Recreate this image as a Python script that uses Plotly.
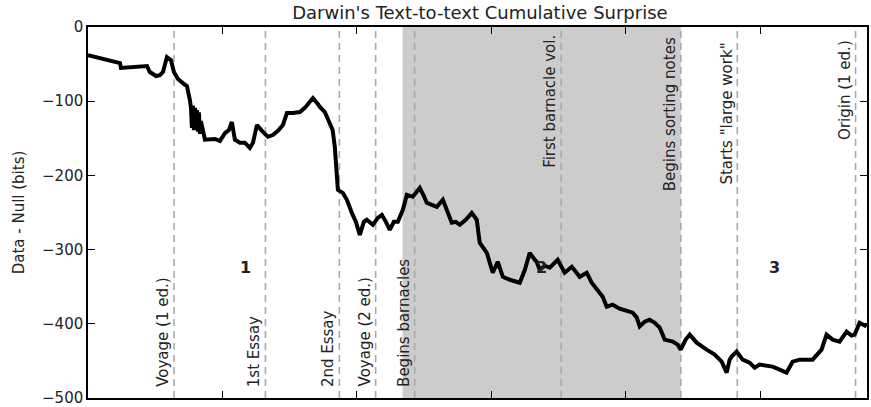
import plotly.graph_objects as go

# Cumulative surprise trace (x: text index, y: data - null in bits)
text_index = [0, 8, 23.8, 24.5, 43.9, 46, 50.6, 53.5, 55.8, 58.7, 61.7, 63.9, 66.9, 70.6, 73.6, 75.8,
              76.6, 77.3, 78.0, 78.8, 79.6, 80.3, 81.0, 81.8, 82.5, 83.3, 84.0,
              87, 94.4, 98.1, 101.9, 104.8, 107, 109.3, 113, 116.7, 120.4, 122.7, 125.7, 129.4,
              133.8, 137.5, 141.3, 145, 148, 152.4, 157.6, 161.3, 167.3, 171, 172.5, 176.2, 180,
              182, 183.6, 185, 185.9, 189.6, 192.6, 196.3, 199.3, 202.2, 205.2, 207.4, 211.9,
              215.6, 218.6, 221.6, 224.5, 227.5, 230.5, 234.2, 237.2, 241.6, 246.8, 249.8, 252,
              255.8, 259.5, 264, 267.7, 270.6, 273.6, 276.6, 281, 285.5, 289.2, 291.4, 296.7,
              301.1, 304.8, 308.6, 313.8, 321.2, 325, 328.6, 332.3, 333.8, 336, 339.8, 343.5,
              349.4, 354.6, 359.9, 365.8, 371, 374.7, 378.4, 382.9, 385.9, 390.3, 395.5, 401.5,
              405.2, 408.2, 410.4, 414.1, 417.8, 421.6, 425.3, 429, 435, 438.7, 440.9, 444.6,
              447.6, 452.8, 456.5, 460.2, 466.2, 471.4, 475.1, 477.3, 478.8, 482.5, 487, 492.2,
              495.9, 499.6, 509.3, 519.7, 524.2, 529.4, 539, 545.7, 549.4, 553.9, 559.1, 564.3,
              568, 570.3, 574, 579.2]
surprise = [-38, -42, -48.5, -55, -52.6, -60.6, -66, -64.7, -60.6, -40.4, -44.5, -60.6, -70, -75.5, -79.5, -98.4,
            -109, -136, -106, -139, -109, -139, -112, -141, -115, -144, -127,
            -152, -151, -153.6, -143, -139, -128, -152, -156, -156, -163, -156, -132, -140,
            -148, -145.6, -140, -132, -116, -116, -114.6, -109, -95.7, -103.8, -107.8, -114.6, -129,
            -139, -161.7, -193, -219.7, -223.7, -233, -250.7, -262.8, -280.3, -262.8, -260, -266.8,
            -257.4, -253.4, -262.8, -273.6, -262.8, -262.8, -246.6, -226.4, -229, -217, -227.8, -237,
            -240, -242.6, -233, -250.7, -264, -262.8, -266.8, -260, -250.7, -260, -291, -304.6,
            -331.5, -316.7, -337, -341, -345, -327.5, -304.6, -314, -316.7, -327.5, -322, -324.8,
            -314, -331.5, -323.5, -337, -331.5, -345, -354.4, -364, -377.4, -374.7, -380, -384,
            -385.4, -392, -404, -397.6, -395, -399, -405.7, -421.8, -424.5, -428.6, -435.3, -421.8,
            -415, -425.9, -431, -435.3, -442, -451.5, -466.3, -449, -444.7, -438, -448.8, -452.8,
            -459.6, -455.5, -458.2, -466.3, -451.5, -448.8, -448.8, -435.3, -415, -421.8, -424.5, -411,
            -416.4, -415, -399, -404]

# Events (vertical dashed lines) and where their labels sit
event_labels = ["Voyage (1 ed.)", "1st Essay", "2nd Essay", "Voyage (2 ed.)", "Begins barnacles",
                "First barnacle vol.", "Begins sorting notes", 'Starts "large work"', "Origin (1 ed.)"]
event_x = [64, 132, 187, 214, 243, 352, 441, 483, 571]
event_label_y = [-487, -487, -487, -487, -487, -9, -12, -20, -16]
event_at_top = [False, False, False, False, False, True, True, True, True]

# Shaded period and period labels
shade_start, shade_end = 234, 441
period_labels = ["1", "2", "3"]
period_x = [117, 337, 511]
period_y = [-325, -325, -325]

y_ticks = [0, -100, -200, -300, -400, -500]
y_ticktext = ["0", "\u2212100", "\u2212200", "\u2212300", "\u2212400", "\u2212500"]
x_ticks = [0, 100, 200, 300, 400, 500]

font_family = "DejaVu Sans"
text_color = "#222222"

fig = go.Figure()

fig.add_vrect(x0=shade_start, x1=shade_end, fillcolor="#cccccc", opacity=1, line_width=0, layer="below")

for xv in event_x:
    fig.add_shape(type="line", x0=xv, x1=xv, y0=0, y1=1, xref="x", yref="paper",
                  line=dict(color="#aaaaaa", width=1.6, dash="7px,5px"), layer="below")

fig.add_trace(go.Scatter(x=text_index, y=surprise, mode="lines",
                         line=dict(color="black", width=4), showlegend=False,
                         hoverinfo="skip"))

for lab, xv, yv, top in zip(event_labels, event_x, event_label_y, event_at_top):
    fig.add_annotation(x=xv - 0.5, y=yv, xref="x", yref="y", text=lab, textangle=-90, showarrow=False,
                       xanchor="right", yanchor="top" if top else "bottom", borderpad=0,
                       font=dict(family=font_family, size=15, color=text_color))

for lab, xv, yv in zip(period_labels, period_x, period_y):
    fig.add_annotation(x=xv, y=yv, xref="x", yref="y", text="<b>" + lab + "</b>",
                       showarrow=False, font=dict(family=font_family, size=16, color=text_color))

fig.update_layout(
    width=871, height=407,
    margin=dict(l=88, r=4, t=27, b=9),
    paper_bgcolor="white", plot_bgcolor="white",
    title=dict(text="Darwin's Text-to-text Cumulative Surprise", x=0.551, xanchor="center",
               y=0.969, yanchor="middle", font=dict(family=font_family, size=18, color=text_color)),
    font=dict(family=font_family, size=15, color=text_color),
)
fig.update_xaxes(range=[0, 579.5], tickvals=x_ticks, showticklabels=False, ticks="inside",
                 ticklen=7, tickcolor="black", showline=True, linecolor="black", linewidth=1.5,
                 mirror="ticks", showgrid=False, zeroline=False, automargin=False)
fig.update_yaxes(range=[-500.6, 0.2], tickvals=y_ticks, ticktext=y_ticktext, ticks="inside",
                 ticklen=7, tickcolor="black", showline=True, linecolor="black", linewidth=1.5,
                 mirror="ticks", showgrid=False, zeroline=False, automargin=False,
                 title=dict(text="Data - Null (bits)", font=dict(family=font_family, size=15, color=text_color),
                            standoff=14),
                 tickfont=dict(family=font_family, size=15, color=text_color))

fig.write_html("out.html", config={"displayModeBar": False},
               post_script="document.body.style.margin='0';")
